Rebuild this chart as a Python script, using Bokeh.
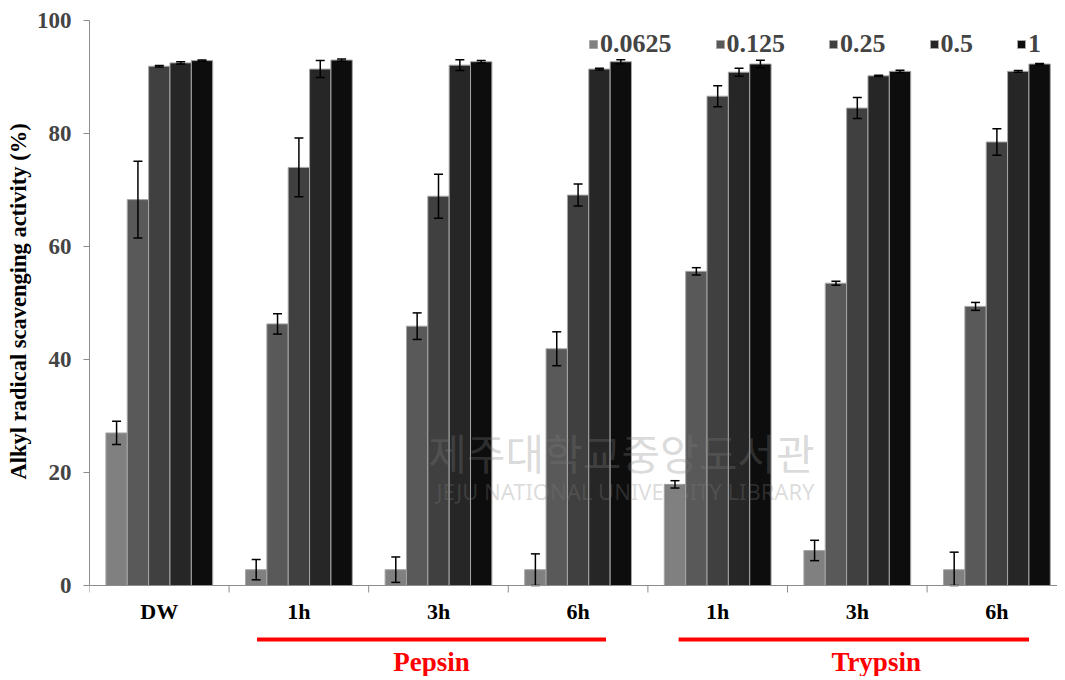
from bokeh.plotting import figure
from bokeh.models import (Range1d, FixedTicker, Whisker, TeeHead, ColumnDataSource,
                          Label, Span, Legend, LegendItem, Title)
from bokeh.core.properties import value
from bokeh.embed import file_html
from bokeh.resources import INLINE

# ---------------- data ----------------
categories = ["DW", "1h", "3h", "6h", "1h", "3h", "6h"]
series_names = ["0.0625", "0.125", "0.25", "0.5", "1"]
s_0625 = [27.0, 2.8, 2.8, 2.8, 17.9, 6.2, 2.8]
s_0125 = [68.3, 46.3, 45.9, 41.9, 55.6, 53.5, 49.4]
s_025 = [91.9, 74.0, 68.9, 69.1, 86.6, 84.5, 78.5]
s_05 = [92.5, 91.4, 92.1, 91.4, 90.85, 90.2, 91.0]
s_1 = [92.9, 93.0, 92.7, 92.7, 92.3, 91.0, 92.3]
e_0625 = [2.05, 1.8, 2.25, 2.8, 0.65, 1.8, 3.1]
e_0125 = [6.8, 1.8, 2.35, 3.0, 0.65, 0.35, 0.7]
e_025 = [0.15, 5.2, 3.9, 1.95, 1.85, 1.85, 2.35]
e_05 = [0.2, 1.5, 0.95, 0.15, 0.7, 0.1, 0.15]
e_1 = [0.1, 0.2, 0.2, 0.35, 0.65, 0.2, 0.1]
group_names = ["Pepsin", "Trypsin"]
group_first = [1, 4]
group_last = [3, 6]
y_ticks = [0, 20, 40, 60, 80, 100]
y_title = "Alkyl radical scavenging activity (%)"

# ---------------- style ----------------
colors = ["#808080", "#595959", "#404040", "#262626", "#0d0d0d"]
values = [s_0625, s_0125, s_025, s_05, s_1]
errors = [e_0625, e_0125, e_025, e_05, e_1]
grp_pad_left = [0.30, 0.28]
grp_pad_right = [0.20, 0.23]
grp_text_shift = [0.0, 0.16]

SERIF = "Liberation Serif"
bar_w = 0.153
PX = 5.65  # pixels per y unit
FIG_W = 1057
FIG_H = 676
TOP = 20
LEFT = 89
y_start = 100 - (FIG_H - TOP) / PX
x_end = (FIG_W - LEFT) / 139.6

p = figure(width=FIG_W, height=FIG_H, output_backend="svg", toolbar_location=None,
           x_range=Range1d(0, x_end), y_range=Range1d(y_start, 100),
           x_axis_location=None,
           min_border_left=LEFT, min_border_right=0, min_border_top=TOP, min_border_bottom=0)
p.outline_line_color = None
p.xgrid.visible = False
p.ygrid.visible = False
p.background_fill_color = "white"

# watermark
p.add_layout(Label(x=3.81, y=23.7, text="제주대학교중앙도서관", text_align="center",
                   text_baseline="middle", text_font="Noto Sans CJK KR",
                   text_font_size="42px", text_color="#7f7f7f", text_alpha=0.3))
p.add_layout(Label(x=3.84, y=16.8, text="JEJU NATIONAL UNIVERSITY LIBRARY",
                   text_align="center", text_baseline="middle", text_font="Noto Sans",
                   text_font_size="22px", text_color="#7f7f7f", text_alpha=0.28))

centers = [i + 0.5 for i in range(len(categories))]
legend_items = []
for j, (name, vals, errs, col) in enumerate(zip(series_names, values, errors, colors)):
    xs = [c + (j - 2) * bar_w for c in centers]
    src = ColumnDataSource(dict(x=xs, top=vals,
                                upper=[v + e for v, e in zip(vals, errs)],
                                lower=[max(v - e, 0) for v, e in zip(vals, errs)]))
    r = p.vbar(x="x", top="top", bottom=0, width=bar_w, source=src,
               fill_color=col, line_color="#a6a6a6", line_width=1)
    legend_items.append(LegendItem(label=name, renderers=[r]))
    w = Whisker(base="x", upper="upper", lower="lower", source=src, dimension="height",
                level="annotation", line_color="black", line_width=1.5,
                upper_head=TeeHead(size=9, line_color="black", line_width=1.5),
                lower_head=TeeHead(size=9, line_color="black", line_width=1.5))
    p.add_layout(w)

legend = Legend(items=legend_items, orientation="horizontal", location="top_right",
                border_line_color=None, background_fill_alpha=0,
                label_text_font=SERIF, label_text_font_style="bold",
                label_text_font_size="26px", glyph_width=10, glyph_height=10,
                label_standoff=2, spacing=43, padding=0, margin=9)
p.add_layout(legend, "center")

# y axis (its title is a left Title, placed to span the 0..100 part)
yax = p.yaxis[0]
yax.ticker = FixedTicker(ticks=y_ticks)
yax.bounds = (0, 100)
yax.major_label_text_font = SERIF
yax.major_label_text_font_style = "bold"
yax.major_label_text_font_size = "23px"
yax.major_label_standoff = 12
yax.axis_line_color = "#8c8c8c"
yax.major_tick_line_color = "#8c8c8c"
yax.major_tick_out = 6
yax.major_tick_in = 0
yax.minor_tick_out = 0
yax.minor_tick_in = 0

frame_h = FIG_H - TOP
title_start = frame_h - 459  # distance from frame bottom to where the title text begins
p.add_layout(Title(text=y_title, align="left", offset=title_start, standoff=5,
                   text_font=SERIF, text_font_style="bold", text_font_size="22.5px",
                   text_color="black"), "left")

# x axis line at y=0, tick marks at category boundaries
p.add_layout(Span(location=0, dimension="width", line_color="#8c8c8c", line_width=1))
bounds_x = list(range(len(categories) + 1))
p.segment(x0=bounds_x, y0=[0] * len(bounds_x), x1=bounds_x,
          y1=[-7 / PX] * len(bounds_x), line_color="#8c8c8c", line_width=1)

# category labels
p.text(x=centers, y=[-26 / PX] * len(centers), text=categories, text_align="center",
       text_baseline="middle", text_font=value(SERIF), text_font_style="bold",
       text_font_size="22px", text_color="black")

# treatment group lines and names
gx0 = [centers[i] - d for i, d in zip(group_first, grp_pad_left)]
gx1 = [centers[i] + d for i, d in zip(group_last, grp_pad_right)]
p.segment(x0=gx0, y0=[-54 / PX] * 2, x1=gx1, y1=[-54 / PX] * 2,
          line_color="#ff0000", line_width=4)
gxc = [(a + b) / 2 + d for a, b, d in zip(gx0, gx1, grp_text_shift)]
p.text(x=gxc, y=[-76 / PX] * 2, text=group_names, text_align="center",
       text_baseline="middle", text_font=value(SERIF), text_font_style="bold",
       text_font_size="27px", text_color="#ff0000")

open("out.html", "w").write(file_html(p, INLINE))
